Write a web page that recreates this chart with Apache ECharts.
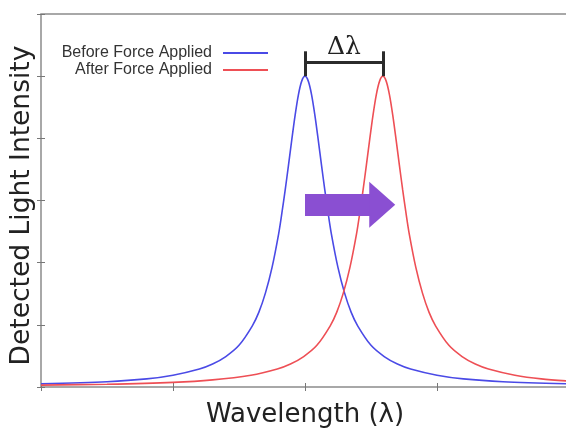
<!DOCTYPE html>
<html>
<head>
<meta charset="utf-8">
<script src="https://cdn.jsdelivr.net/npm/echarts@6/dist/echarts.min.js"></script>
<style>
  html, body { margin: 0; padding: 0; background: #fff; }
  #main { width: 566px; height: 430px; }
</style>
</head>
<body>
<div id="main"></div>
<script>
// values (x in tick units, y in tick units)
var wavelengthBefore = [0, 0.5, 0.8, 1.0, 1.2, 1.3, 1.4, 1.5, 1.6, 1.65, 1.7, 1.75, 1.8, 1.825, 1.85, 1.875, 1.9, 1.925, 1.95, 1.975,
    2.0, 2.025, 2.05, 2.075, 2.1, 2.125, 2.15, 2.175, 2.2, 2.25, 2.3, 2.35, 2.4, 2.5, 2.6, 2.7, 2.8, 3.0, 3.2, 3.5, 4.0];
var intensityBefore = [0.05, 0.085, 0.13, 0.19, 0.29, 0.37, 0.49, 0.67, 0.98, 1.2, 1.51, 1.92, 2.46, 2.8, 3.17, 3.57, 3.98, 4.37, 4.7, 4.92,
    5.0, 4.92, 4.7, 4.37, 3.98, 3.57, 3.17, 2.8, 2.46, 1.92, 1.51, 1.2, 0.98, 0.67, 0.49, 0.37, 0.29, 0.19, 0.13, 0.085, 0.05];

var wavelengthAfter = [0, 0.5, 1.0, 1.3, 1.59, 1.79, 1.89, 1.99, 2.09, 2.19, 2.24, 2.29, 2.34, 2.39, 2.415, 2.44, 2.465, 2.49, 2.515, 2.54, 2.565,
    2.59, 2.615, 2.64, 2.665, 2.69, 2.715, 2.74, 2.765, 2.79, 2.84, 2.89, 2.94, 2.99, 3.09, 3.19, 3.29, 3.39, 3.59, 3.79, 4.0];
var intensityAfter = [0.03, 0.045, 0.075, 0.115, 0.19, 0.29, 0.37, 0.49, 0.67, 0.98, 1.2, 1.51, 1.92, 2.46, 2.8, 3.17, 3.57, 3.98, 4.37, 4.7, 4.92,
    5.0, 4.92, 4.7, 4.37, 3.98, 3.57, 3.17, 2.8, 2.46, 1.92, 1.51, 1.2, 0.98, 0.67, 0.49, 0.37, 0.29, 0.19, 0.13, 0.095];

var seriesNames = ['Before Force Applied', 'After Force Applied'];
var peakBefore = 2.0;
var peakAfter = 2.59;
var arrowLevel = 2.93;

function pairs(xs, ys) {
    var out = [];
    for (var i = 0; i < xs.length; i++) {
        out.push([xs[i], ys[i]]);
    }
    return out;
}

var myChart = echarts.init(document.getElementById('main'));

var axisGray = '#8c8c8c';
var tickStyle = { show: true, inside: true, length: 4, lineStyle: { color: '#777', width: 1 } };

var legendText = { fontFamily: 'Liberation Sans', fontSize: 16, color: '#333', padding: [0, 6, 0, 0] };

var option = {
    animation: false,
    backgroundColor: '#fff',
    grid: {
        left: 41, width: 528, top: 14, bottom: 43,
        outerBoundsMode: 'none', containLabel: false,
        show: true, borderColor: axisGray, borderWidth: 1.5, backgroundColor: 'transparent'
    },
    legend: [{
        data: [seriesNames[0]],
        right: 293, top: 40,
        align: 'right',
        selectedMode: false,
        itemWidth: 45, itemHeight: 2, icon: 'rect',
        textStyle: legendText
    }, {
        data: [seriesNames[1]],
        right: 293, top: 57,
        align: 'right',
        selectedMode: false,
        itemWidth: 45, itemHeight: 2, icon: 'rect',
        textStyle: legendText
    }],
    xAxis: [{
        type: 'value', min: 0, max: 4, interval: 1,
        name: 'Wavelength (λ)', nameLocation: 'middle', nameGap: 15,
        nameTextStyle: { fontFamily: 'DejaVu Sans', fontSize: 26, color: '#222' },
        axisLine: { show: false }, axisTick: tickStyle,
        axisLabel: { show: false }, splitLine: { show: false }
    }, {
        type: 'value', min: 0, max: 4, interval: 1, position: 'top',
        axisLine: { show: false }, axisTick: tickStyle,
        axisLabel: { show: false }, splitLine: { show: false }
    }],
    yAxis: [{
        type: 'value', min: 0, max: 6, interval: 1,
        name: 'Detected Light Intensity', nameLocation: 'middle', nameGap: 5, nameRotate: 90,
        nameTextStyle: { fontFamily: 'DejaVu Sans', fontSize: 26.5, color: '#222', padding: [0, 10, 0, 0] },
        axisLine: { show: false }, axisTick: tickStyle,
        axisLabel: { show: false }, splitLine: { show: false }
    }, {
        type: 'value', min: 0, max: 6, interval: 1, position: 'right',
        axisLine: { show: false }, axisTick: tickStyle,
        axisLabel: { show: false }, splitLine: { show: false }
    }],
    series: [{
        name: seriesNames[0],
        type: 'line',
        symbol: 'none',
        smooth: 0.3,
        itemStyle: { color: '#4a4ae6' },
        lineStyle: { color: '#4a4ae6', width: 1.6 },
        data: pairs(wavelengthBefore, intensityBefore),
        z: 2
    }, {
        name: seriesNames[1],
        type: 'line',
        symbol: 'none',
        smooth: 0.3,
        itemStyle: { color: '#ee4f55' },
        lineStyle: { color: '#ee4f55', width: 1.6 },
        data: pairs(wavelengthAfter, intensityAfter),
        z: 3
    }, {
        // annotations: shift bracket and arrow
        name: 'annot',
        type: 'line',
        data: [],
        z: 5,
        markLine: {
            silent: true,
            animation: false,
            symbol: 'none',
            lineStyle: { color: '#2b2b2b', width: 3, type: 'solid' },
            label: { show: false },
            data: [
                [{ coord: [peakBefore, 5.23], label: { show: true, formatter: 'Δλ', position: 'middle', distance: 2,
                    fontFamily: 'DejaVu Serif', fontSize: 25, color: '#222' } },
                 { coord: [peakAfter, 5.23] }],
                [{ coord: [peakBefore, 5.0] }, { coord: [peakBefore, 5.4] }],
                [{ coord: [peakAfter, 5.0] }, { coord: [peakAfter, 5.4] }],
                [{ coord: [peakBefore, arrowLevel], symbol: 'none',
                   lineStyle: { color: '#8a4fd2', width: 22 } },
                 { coord: [2.585, arrowLevel], symbol: 'triangle', symbolSize: [46, 26] }]
            ]
        }
    }]
};

myChart.setOption(option);
</script>
</body>
</html>
